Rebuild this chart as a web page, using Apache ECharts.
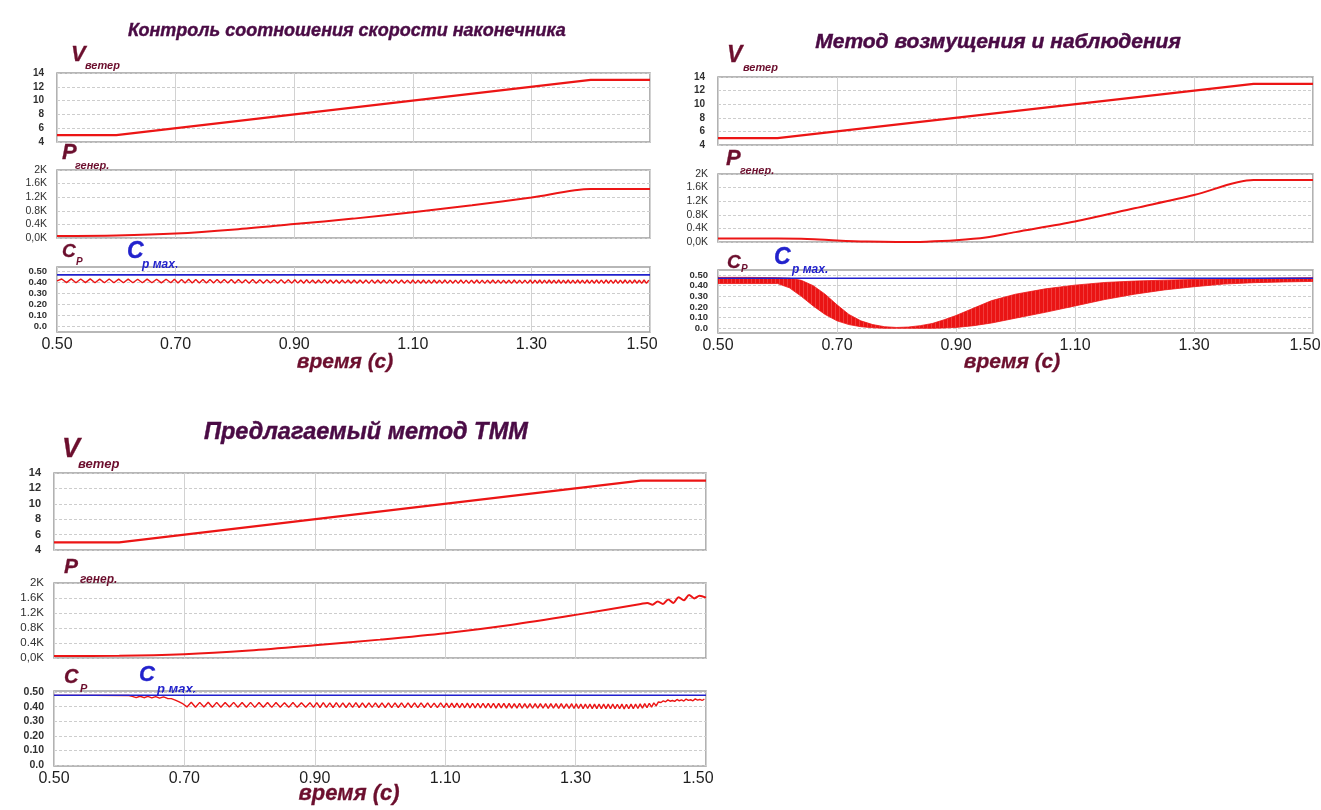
<!DOCTYPE html>
<html>
<head>
<meta charset="utf-8">
<script src="https://cdn.jsdelivr.net/npm/echarts@6/dist/echarts.min.js"></script>
<style>
  html, body { margin: 0; padding: 0; background: #ffffff; }
  #chart { width: 1321px; height: 810px; }
</style>
</head>
<body>
<div id="chart"></div>
<script>
// ---------- axis ticks ----------
const timeTicks = [0.5, 0.7, 0.9, 1.1, 1.3, 1.5];
const timeTickLabels = ['0.50', '0.70', '0.90', '1.10', '1.30', '1.50'];
const powerTickLabels = ['0,0K', '0.4K', '0.8K', '1.2K', '1.6K', '2K'];
const cpTicks = [0, 0.1, 0.2, 0.3, 0.4, 0.5];
const cpTickLabels = ['0.0', '0.10', '0.20', '0.30', '0.40', '0.50'];

// ---------- wind speed, m/s (same ramp in all three runs) ----------
const windT = [0.5, 0.6, 1.4, 1.5];
const wind1 = [5, 5, 13, 13];
const wind2 = [5, 5, 13, 13];
const wind3 = [5, 5, 13, 13];

// ---------- generator power, W ----------
const power1T = [0.5, 0.6, 0.7, 0.8, 0.9, 1.0, 1.1, 1.2, 1.3, 1.4, 1.5];
const power1 = [60, 75, 130, 250, 410, 570, 760, 960, 1190, 1440, 1440];

const power2T = [0.5, 0.6, 0.65, 0.7, 0.75, 0.8, 0.85, 0.9, 0.95, 1.0, 1.1, 1.2, 1.3, 1.4, 1.5];
const power2 = [100, 100, 90, 45, 12, 0, 10, 50, 130, 290, 600, 990, 1380, 1820, 1820];

const power3T = [0.5, 0.6, 0.7, 0.8, 0.9, 1.0, 1.1, 1.2, 1.3, 1.4, 1.41, 1.418, 1.426, 1.434, 1.442, 1.45, 1.458, 1.466, 1.474, 1.482, 1.49, 1.5];
const power3 = [55, 60, 100, 200, 340, 490, 660, 880, 1150, 1440, 1470, 1420, 1510, 1440, 1560, 1470, 1620, 1540, 1680, 1590, 1660, 1610];

// ---------- maximum power coefficient ----------
const cpMax1 = 0.465;
const cpMax2 = 0.47;
const cpMax3 = 0.478;

// ---------- Cp, tip-speed-ratio control: ripple segments [start, step] + samples ----------
const cp1Grid = [[0.5, 0.008], [0.698, 0.006], [0.901, 0.005], [1.1, 0.0045], [1.298, 0.004]];
const cp1A = [0.412,0.428,0.396,0.429,0.395,0.428,0.396,0.429,0.395,0.427,0.395,0.428,0.394,0.427,0.395,0.427,0.394,0.426,0.394,0.427,0.394,0.426,0.393,0.426,0.394];
const cp1B = [0.425,0.393,0.424,0.393,0.425,0.392,0.424,0.393,0.424,0.392,0.423,0.392,0.424,0.392,0.423,0.392,0.423,0.391,0.423,0.392,0.422,0.391,0.423,0.391,0.422,0.391,0.422,0.392,0.422,0.391,0.421,0.391,0.422,0.391];
const cp1C = [0.421,0.391,0.42,0.39,0.421,0.391,0.42,0.39,0.42,0.391,0.421,0.39,0.42,0.39,0.419,0.39,0.42,0.391,0.42,0.39,0.419,0.39,0.42,0.39,0.419,0.389,0.42,0.39,0.419,0.39,0.419,0.389,0.42,0.39,0.419,0.389,0.419,0.39,0.418,0.389];
const cp1D = [0.419,0.389,0.418,0.39,0.419,0.389,0.418,0.389,0.419,0.39,0.418,0.389,0.419,0.389,0.418,0.39,0.418,0.389,0.419,0.389,0.418,0.389,0.418,0.39,0.419,0.389,0.418,0.389,0.418,0.39,0.419,0.389,0.418,0.389,0.418,0.39,0.418,0.389,0.419,0.389,0.418,0.389,0.418,0.389];
const cp1E = [0.419,0.389,0.418,0.39,0.419,0.389,0.418,0.389,0.419,0.39,0.418,0.389,0.419,0.389,0.418,0.39,0.419,0.389,0.418,0.389,0.419,0.39,0.418,0.389,0.419,0.389,0.418,0.39,0.419,0.389,0.418,0.389,0.419,0.39,0.418,0.389,0.419,0.389,0.418,0.39,0.419,0.389,0.418,0.389,0.419,0.39,0.418,0.389,0.419,0.389,0.418];

// ---------- Cp, perturb & observe: envelope of the dense oscillation ----------
const cp2T =     [0.50, 0.55, 0.60, 0.62, 0.64, 0.66, 0.68, 0.70, 0.72, 0.74, 0.76, 0.78, 0.80, 0.82, 0.84, 0.86, 0.88, 0.90, 0.93, 0.96, 1.00, 1.05, 1.10, 1.15, 1.20, 1.25, 1.30, 1.35, 1.40, 1.45, 1.50];
const cp2Upper = [0.478,0.478,0.475,0.47, 0.45, 0.40, 0.32, 0.22, 0.13, 0.07, 0.035,0.015,0.008,0.012,0.025,0.045,0.08, 0.12, 0.19, 0.26, 0.32, 0.37, 0.405,0.43, 0.443,0.452,0.458,0.463,0.467,0.472,0.475];
const cp2Lower = [0.42, 0.42, 0.42, 0.38, 0.30, 0.21, 0.13, 0.07, 0.035,0.015,0.005,0.0,  0.0,  0.0,  0.0,  0.0,  0.003,0.008,0.025,0.05, 0.095,0.15, 0.21, 0.27, 0.32, 0.36, 0.39, 0.415,0.428,0.435,0.44];

// ---------- Cp, proposed method ----------
const cp3Head = [[0.5, 0.477], [0.56, 0.477], [0.615, 0.476]];
const cp3Grid = [[0.62, 0.006], [0.704, 0.0065], [0.898, 0.005], [1.098, 0.004], [1.2975, 0.0035], [1.431, 0.0035]];
const cp3A = [0.470,0.462,0.471,0.461,0.470,0.460,0.469,0.458,0.467,0.456];
const cp3Drop = [[0.68, 0.455], [0.686, 0.445], [0.692, 0.432], [0.698, 0.418]];
const cp3B = [0.398,0.43,0.396,0.429,0.397,0.43,0.396,0.429,0.396,0.428,0.397,0.429,0.396,0.428,0.396,0.429,0.395,0.428,0.396,0.428,0.395,0.428,0.396,0.427,0.395,0.428,0.395,0.427,0.396,0.427];
const cp3C = [0.395,0.427,0.394,0.427,0.395,0.426,0.394,0.427,0.395,0.426,0.394,0.426,0.395,0.427,0.394,0.426,0.394,0.426,0.395,0.426,0.394,0.425,0.394,0.426,0.393,0.425,0.394,0.426,0.393,0.425,0.394,0.425,0.393,0.425,0.394,0.425,0.393,0.424,0.393,0.425];
const cp3D = [0.393,0.424,0.392,0.424,0.393,0.424,0.392,0.423,0.392,0.424,0.391,0.423,0.392,0.423,0.391,0.423,0.391,0.422,0.391,0.423,0.39,0.422,0.391,0.422,0.39,0.422,0.39,0.421,0.39,0.422,0.389,0.421,0.39,0.421,0.389,0.421,0.389,0.42,0.389,0.421,0.388,0.42,0.389,0.42,0.388,0.42,0.388,0.419,0.388,0.42];
const cp3E = [0.387,0.419,0.387,0.418,0.386,0.418,0.387,0.418,0.386,0.417,0.386,0.418,0.385,0.417,0.386,0.417,0.385,0.417,0.385,0.416,0.385,0.417,0.384,0.416,0.385,0.417,0.386,0.418,0.387,0.419,0.39,0.421,0.393,0.423,0.397,0.426,0.405,0.432];
const cp3F = [0.428,0.44,0.433,0.446,0.437,0.442,0.436,0.449,0.44,0.446,0.438,0.452,0.443,0.447,0.44,0.453,0.444,0.449,0.442,0.451];

// ---------- helpers ----------
const FONT = '"Liberation Sans", Arial, sans-serif';
const RED = '#ec1515';
const BLUE = '#2222cc';
const MAROON = '#6c0f2e';
const TITLE = '#4a0b45';

function zip(t, v) { return t.map((x, i) => [x, v[i]]); }
function ripple(grid, index, vals) {
  const [t0, dt] = grid[index];
  return vals.map((v, i) => [+(t0 + i * dt).toFixed(5), v]);
}

const cp1Data = [].concat(
  ripple(cp1Grid, 0, cp1A), ripple(cp1Grid, 1, cp1B), ripple(cp1Grid, 2, cp1C),
  ripple(cp1Grid, 3, cp1D), ripple(cp1Grid, 4, cp1E));
const cp3Data = [].concat(
  cp3Head, ripple(cp3Grid, 0, cp3A), cp3Drop, ripple(cp3Grid, 1, cp3B), ripple(cp3Grid, 2, cp3C),
  ripple(cp3Grid, 3, cp3D), ripple(cp3Grid, 4, cp3E), ripple(cp3Grid, 5, cp3F));

// faintly striped red fill: the P&O oscillation is so fast that it reads as vertical hatching
const stripe = document.createElement('canvas');
stripe.width = 4; stripe.height = 4;
(function () {
  const c = stripe.getContext('2d');
  c.fillStyle = '#ea1414'; c.fillRect(0, 0, 4, 4);
  c.fillStyle = '#f03c3c'; c.fillRect(3, 0, 1, 4);
})();

// three panels, each with wind / power / Cp strips
const panels = [
  { boxes: [[57, 73, 593, 69], [57, 170, 593, 68], [57, 267, 593, 65]], cpRange: [-0.048, 0.536], lab: 10, xl: 16 },
  { boxes: [[718, 77, 595, 68], [718, 174, 595, 68], [718, 270, 595, 63]], cpRange: [-0.044, 0.547], lab: 10, xl: 16 },
  { boxes: [[54, 473, 652, 77], [54, 583, 652, 75], [54, 691, 652, 75]], cpRange: [-0.007, 0.507], lab: 11, xl: 16 }
];

const grids = [], xAxes = [], yAxes = [], series = [];

panels.forEach((p, pi) => {
  p.boxes.forEach((b, k) => {
    const gi = pi * 3 + k;
    grids.push({
      left: b[0], top: b[1], width: b[2], height: b[3],
      show: true, borderColor: '#a0a0a0', borderWidth: 1.6, backgroundColor: '#ffffff',
      outerBoundsMode: 'none', containLabel: false
    });
    const isBottom = k === 2;
    xAxes.push({
      type: 'value', gridIndex: gi, min: 0.5, max: 1.5,
      axisLine: { show: false },
      axisTick: { show: false, customValues: timeTicks },
      axisLabel: {
        show: isBottom, customValues: timeTicks, margin: 5,
        fontFamily: FONT, fontSize: p.xl, color: '#1e1e1e',
        formatter: v => {
          const i = timeTicks.indexOf(+v.toFixed(2));
          return i === timeTicks.length - 1 ? '{r|' + timeTickLabels[i] + '}' : timeTickLabels[i];
        },
        rich: { r: { fontFamily: FONT, fontSize: p.xl, color: '#1e1e1e', padding: [0, 16, 0, 0] } }
      },
      splitLine: { show: true, lineStyle: { color: '#d2d2d2', width: 1 } }
    });
    const yBase = {
      type: 'value', gridIndex: gi,
      axisLine: { show: false },
      axisTick: { show: false },
      splitLine: { show: true, lineStyle: { color: '#cdcdcd', width: 1, type: [3, 2] } }
    };
    if (k === 0) {
      yAxes.push(Object.assign({}, yBase, {
        min: 4, max: 14, interval: 2,
        axisLabel: { margin: 13, fontFamily: FONT, fontSize: p.lab, fontWeight: 'bold', color: '#303030' }
      }));
    } else if (k === 1) {
      yAxes.push(Object.assign({}, yBase, {
        min: 0, max: 2000, interval: 400,
        axisLabel: { margin: 10, fontFamily: FONT, fontSize: p.lab + 0.5, color: '#303030',
          formatter: v => powerTickLabels[Math.round(v / 400)] }
      }));
    } else {
      yAxes.push(Object.assign({}, yBase, {
        min: p.cpRange[0], max: p.cpRange[1],
        axisTick: { show: false, customValues: cpTicks },
        axisLabel: { customValues: cpTicks, margin: 10, fontFamily: FONT, fontSize: p.lab - 0.5,
          fontWeight: 'bold', color: '#303030',
          formatter: v => cpTickLabels[Math.round(v * 10)] }
      }));
    }
  });
});

function line(gi, data, color, width, extra) {
  return Object.assign({
    type: 'line', xAxisIndex: gi, yAxisIndex: gi, data: data,
    showSymbol: false, symbol: 'none', animation: false, silent: true,
    lineStyle: { color: color, width: width }, itemStyle: { color: color }
  }, extra || {});
}

// wind strips
series.push(line(0, zip(windT, wind1), RED, 2.2));
series.push(line(3, zip(windT, wind2), RED, 2.2));
series.push(line(6, zip(windT, wind3), RED, 2.2));
// power strips
series.push(line(1, zip(power1T, power1), RED, 2, { smooth: 0.3 }));
series.push(line(4, zip(power2T, power2), RED, 2, { smooth: 0.3 }));
series.push(line(7, zip(power3T, power3), RED, 2, { smooth: 0.3 }));
// Cp strips
series.push(line(2, cp1Data, RED, 1.4));
series.push(line(2, [[0.5, cpMax1], [1.5, cpMax1]], BLUE, 1.6));

// dense oscillation of P&O drawn as the filled band between its envelopes
series.push({
  type: 'custom', xAxisIndex: 5, yAxisIndex: 5, data: [[0.5, 0]], silent: true, clip: true,
  renderItem: function (params, api) {
    const top = cp2T.map((t, i) => api.coord([t, cp2Upper[i]]));
    const bottom = cp2T.map((t, i) => api.coord([t, cp2Lower[i]])).reverse();
    return {
      type: 'polygon',
      shape: { points: top.concat(bottom) },
      style: { fill: { image: stripe, repeat: 'repeat' }, stroke: RED, lineWidth: 0.8 }
    };
  }
});
series.push(line(5, [[0.5, cpMax2], [1.5, cpMax2]], BLUE, 1.6));

series.push(line(8, cp3Data, RED, 1.4));
series.push(line(8, [[0.5, cpMax3], [1.5, cpMax3]], BLUE, 1.6));

// ---------- text: titles, strip labels, axis name ----------
function txt(x, y, text, size, color, align, heavy) {
  const style = {
    text: text, fill: color, fontFamily: FONT, fontSize: size,
    fontWeight: 'bold', fontStyle: 'italic',
    align: align || 'left', verticalAlign: 'middle'
  };
  if (heavy) { style.stroke = color; style.lineWidth = heavy; }
  return { type: 'text', x: x, y: y, silent: true, style: style };
}

const graphics = [
  txt(347, 31, 'Контроль соотношения скорости наконечника', 18, TITLE, 'center', 0.4),
  txt(998, 42, 'Метод возмущения и наблюдения', 21, TITLE, 'center', 0.45),
  txt(366, 433, 'Предлагаемый метод ТММ', 23.5, TITLE, 'center', 0.45),

  // panel 1
  txt(71, 55, 'V', 22, MAROON, 'left', 0.3), txt(85, 66, 'ветер', 11, MAROON),
  txt(62, 153, 'P', 22, MAROON, 'left', 0.3), txt(75, 166, 'генер.', 11, MAROON),
  txt(62, 252, 'C', 19, MAROON, 'left', 0.3), txt(76, 262, 'P', 10, MAROON),
  txt(127, 252, 'C', 23, BLUE, 'left', 0.3), txt(142, 265, 'р мах.', 12, BLUE),
  txt(345, 362, 'время (с)', 21, MAROON, 'center', 0.3),

  // panel 2
  txt(727, 56, 'V', 23, MAROON, 'left', 0.3), txt(743, 68, 'ветер', 11, MAROON),
  txt(726, 159, 'P', 22, MAROON, 'left', 0.3), txt(740, 171, 'генер.', 11, MAROON),
  txt(727, 263, 'C', 19, MAROON, 'left', 0.3), txt(741, 269, 'P', 10, MAROON),
  txt(774, 258, 'C', 23, BLUE, 'left', 0.3), txt(792, 270, 'р мах.', 12, BLUE),
  txt(1012, 362, 'время (с)', 21, MAROON, 'center', 0.3),

  // panel 3
  txt(62, 450, 'V', 27, MAROON, 'left', 0.3), txt(78, 464, 'ветер', 13, MAROON),
  txt(64, 567, 'P', 21, MAROON, 'left', 0.3), txt(80, 580, 'генер.', 12, MAROON),
  txt(64, 677, 'C', 20, MAROON, 'left', 0.3), txt(80, 689, 'P', 11, MAROON),
  txt(139, 675, 'C', 22, BLUE, 'left', 0.3), txt(157, 689, 'р мах.', 13, BLUE),
  txt(349, 794, 'время (с)', 22, MAROON, 'center', 0.3)
];

const chart = echarts.init(document.getElementById('chart'), null, { renderer: 'canvas' });
chart.setOption({
  backgroundColor: '#ffffff',
  animation: false,
  grid: grids,
  xAxis: xAxes,
  yAxis: yAxes,
  series: series,
  graphic: graphics
});
</script>
</body>
</html>
